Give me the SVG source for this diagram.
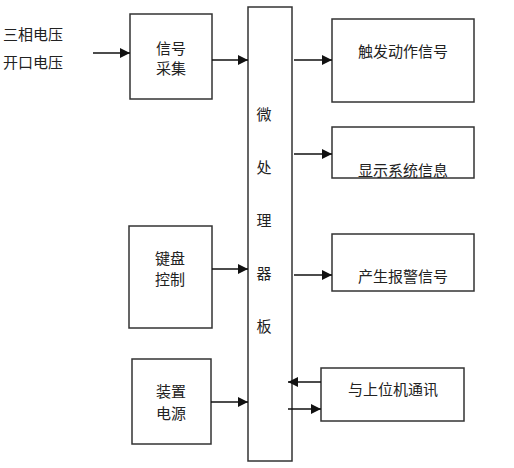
<svg xmlns="http://www.w3.org/2000/svg" width="514" height="468" viewBox="0 0 514 468">
<style>
.box{fill:#fff;stroke:#333;stroke-width:1.5}
.t{font-family:"Noto Sans CJK SC","Noto Sans",sans-serif;font-size:15px;fill:#222;text-anchor:middle;dominant-baseline:central}
.l{text-anchor:start}
.c{stroke:#111;stroke-width:1.3;fill:none;marker-end:url(#ah)}
</style>
<defs>
<marker id="ah" viewBox="0 0 10 10" refX="10" refY="5" markerWidth="10" markerHeight="11" markerUnits="userSpaceOnUse" orient="auto">
<path d="M0,0 L10,5 L0,10 Z" fill="#111"/>
</marker>
</defs>
<rect width="514" height="468" fill="#fff"/>
<g id="input-label">
<text class="t l" x="3" y="33">三相电压</text>
<text class="t l" x="3" y="61">开口电压</text>
</g>
<g id="signal">
<rect class="box" x="130" y="14" width="82" height="85"/>
<text class="t" x="171" y="47">信号</text>
<text class="t" x="171" y="67">采集</text>
</g>
<g id="keyboard">
<rect class="box" x="129" y="226" width="83" height="102"/>
<text class="t" x="170" y="257">键盘</text>
<text class="t" x="170" y="278">控制</text>
</g>
<g id="power">
<rect class="box" x="132" y="359" width="79" height="85"/>
<text class="t" x="171" y="390">装置</text>
<text class="t" x="171" y="412">电源</text>
</g>
<g id="mcu">
<rect class="box" x="248" y="7" width="44" height="454"/>
<text class="t" x="264" y="113">微</text>
<text class="t" x="264" y="166">处</text>
<text class="t" x="264" y="219">理</text>
<text class="t" x="264" y="272">器</text>
<text class="t" x="264" y="325">板</text>
</g>
<g id="trigger">
<rect class="box" x="332" y="19" width="142" height="83"/>
<text class="t" x="403" y="50">触发动作信号</text>
</g>
<g id="display">
<rect class="box" x="332" y="127" width="142" height="51"/>
<text class="t" x="403" y="169">显示系统信息</text>
</g>
<g id="alarm">
<rect class="box" x="332" y="234" width="142" height="57"/>
<text class="t" x="403" y="275">产生报警信号</text>
</g>
<g id="comm">
<rect class="box" x="321" y="368" width="143" height="53"/>
<text class="t" x="393" y="388">与上位机通讯</text>
</g>
<g id="connectors">
<line class="c" x1="93" y1="53" x2="130" y2="53"/>
<line class="c" x1="212" y1="60" x2="248" y2="60"/>
<line class="c" x1="212" y1="269" x2="248" y2="269"/>
<line class="c" x1="211" y1="402" x2="248" y2="402"/>
<line class="c" x1="294" y1="60" x2="332" y2="60"/>
<line class="c" x1="294" y1="154" x2="332" y2="154"/>
<line class="c" x1="294" y1="275" x2="332" y2="275"/>
<line class="c" x1="321" y1="382" x2="288" y2="382"/>
<line class="c" x1="288" y1="409" x2="321" y2="409"/>
</g>
</svg>
